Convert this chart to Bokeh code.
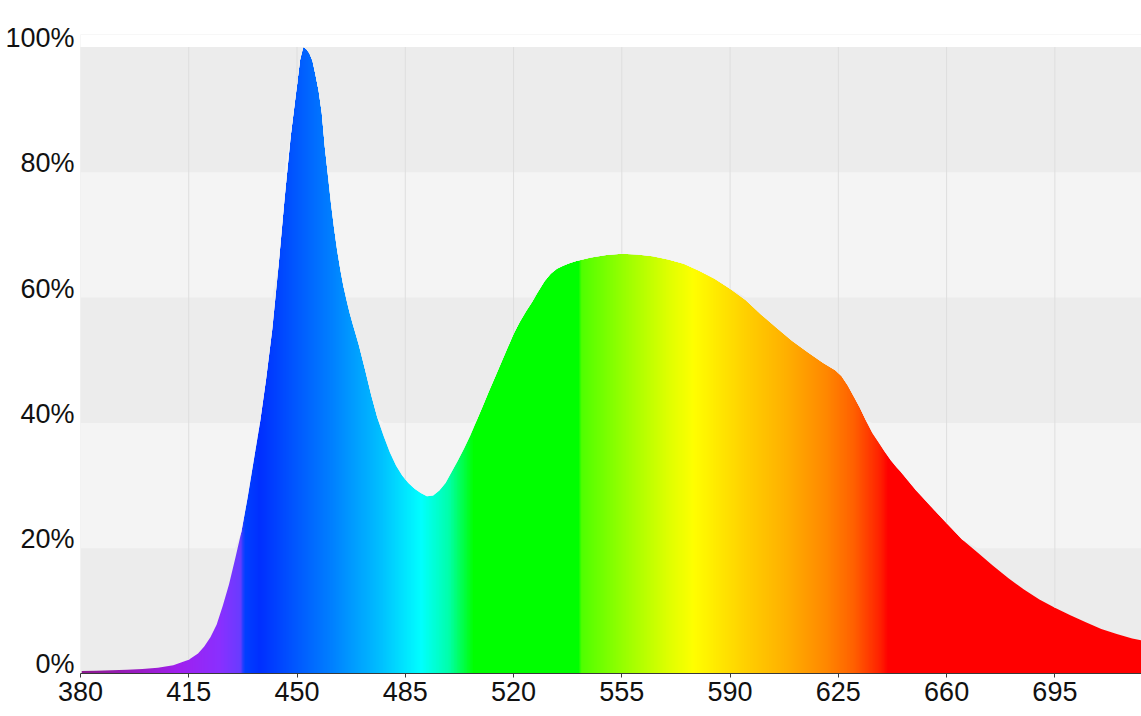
import numpy as np
from bokeh.plotting import figure
from bokeh.models import Range1d, FixedTicker, BoxAnnotation
from bokeh.embed import file_html
from bokeh.resources import INLINE

# ---- data ----
wavelength = [380, 385, 390, 395, 400, 405, 410, 415, 418, 420, 422, 424, 426, 428,
              430, 432, 434, 436, 438, 440, 442, 444, 446, 448, 450, 451, 452, 453,
              454, 455, 456, 457, 458, 459, 460, 461, 462, 463, 464, 465, 466, 467,
              468, 469, 470, 472, 474, 476, 478, 480, 482, 484, 486, 488, 490, 492,
              494, 496, 498, 500, 502, 504, 506, 508, 510, 512, 514, 516, 518, 520,
              522, 524, 526, 528, 530, 532, 534, 536, 538, 540, 545, 550, 555, 560,
              565, 570, 575, 580, 585, 590, 595, 600, 605, 610, 615, 620, 622, 624,
              626, 628, 630, 632, 634, 636, 638, 640, 642, 644, 645, 650, 655, 660,
              665, 670, 675, 680, 685, 690, 695, 700, 705, 710, 715, 720, 725]
intensity = [0.4, 0.45, 0.5, 0.6, 0.7, 0.9, 1.3, 2.2, 3.2, 4.3, 5.8, 7.8, 10.8, 14.2,
             18.3, 22.6, 28.0, 34.0, 40.0, 47.0, 55.0, 65.0, 76.0, 86.0, 94.0, 98.0, 100.0, 99.7,
             99.0, 97.8, 95.5, 93.0, 89.5, 84.0, 79.5, 75.0, 71.0, 67.5, 64.5, 61.8, 59.6, 57.6,
             55.8, 54.1, 52.4, 48.5, 44.4, 40.8, 37.9, 35.3, 33.2, 31.6, 30.4, 29.5, 28.8, 28.3,
             28.4, 29.2, 30.4, 32.2, 34.0, 35.9, 38.0, 40.3, 42.6, 45.0, 47.3, 49.6, 51.9, 54.2,
             56.1, 57.8, 59.3, 61.0, 62.6, 63.8, 64.6, 65.1, 65.5, 65.8, 66.4, 66.8, 67.0, 66.9,
             66.6, 66.1, 65.4, 64.3, 63.0, 61.4, 59.6, 57.3, 55.2, 53.1, 51.3, 49.6, 49.0, 48.4,
             47.5, 46.0, 44.2, 42.4, 40.3, 38.4, 36.9, 35.4, 34.0, 32.8, 32.3, 29.3, 26.6, 24.0,
             21.4, 19.3, 17.2, 15.2, 13.4, 11.8, 10.5, 9.3, 8.2, 7.1, 6.3, 5.6, 5.1]

x_ticks = [380, 415, 450, 485, 520, 555, 590, 625, 660, 695, 730]
y_ticks = [0, 20, 40, 60, 80, 100]
y_tick_labels = ["0%", "20%", "40%", "60%", "80%", "100%"]

# spectral colour stops (wavelength -> colour)
color_wl = [380, 400, 412, 425, 431.5, 433, 438, 461, 477, 490, 499, 507, 541, 541.8,
            557, 570, 578, 595, 608, 621, 630, 638.5, 641, 730]
color_hex = ["#8c1a8c", "#9a1cc8", "#a020f0", "#8a30ff", "#6a3cff", "#0040ff", "#0030ff",
             "#0080ff", "#00c0ff", "#00ffff", "#00ffaa", "#00ff00", "#00ff00", "#50ff00",
             "#a0ff00", "#e0ff00", "#ffff00", "#ffd000", "#ffb000", "#ff8800", "#ff6000",
             "#ff2000", "#ff0000", "#ff0000"]

X_START, X_END = 380, 723.0
Y_TOP = 102          # a little white headroom above the 100% line
LABEL_SHIFT = 1.44   # y labels sit slightly above their grid lines
FONT = "Liberation Sans"

p = figure(frame_width=1061, frame_height=639, min_border_left=80, min_border_top=34,
           min_border_right=0, output_backend="svg", toolbar_location=None,
           x_range=Range1d(X_START, X_END), y_range=Range1d(0, Y_TOP))
p.outline_line_color = None
p.border_fill_color = "white"
p.background_fill_color = "#ececec"
p.xgrid.visible = False
p.ygrid.visible = False
# white headroom above the 100% line
p.add_layout(BoxAnnotation(bottom=100, fill_color="white", fill_alpha=1.0,
                           line_color=None, level="underlay"))

# ---- gradient (colour as a function of wavelength) ----
wl_arr = np.array(wavelength, dtype=float)
val_arr = np.array(intensity, dtype=float)
rgb = np.array([[int(h[i:i + 2], 16) for i in (1, 3, 5)] for h in color_hex], dtype=float)
IMG_X0 = X_START + 0.4
cols = np.linspace(IMG_X0, X_END, 1400)
r = np.interp(cols, color_wl, rgb[:, 0]).astype(np.uint32)
g = np.interp(cols, color_wl, rgb[:, 1]).astype(np.uint32)
b = np.interp(cols, color_wl, rgb[:, 2]).astype(np.uint32)
rgba = (np.uint32(255) << np.uint32(24)) | (b << np.uint32(16)) | (g << np.uint32(8)) | r
img = rgba.reshape(1, -1).astype(np.uint32)
p.image_rgba(image=[img], x=IMG_X0, y=0, dw=X_END - IMG_X0, dh=100)

# ---- mask above the spectrum: alternating bands ----
band_colors = ["#ececec", "#f4f4f4", "#ececec", "#f4f4f4", "#ececec"]
for lo, col in zip(y_ticks[:-1], band_colors):
    p.varea(x=wl_arr, y1=np.maximum(val_arr, lo), y2=100, fill_color=col)

# ---- vertical grid lines above the spectrum ----
grid_x = np.array([t for t in x_ticks if X_START < t < X_END], dtype=float)
p.segment(x0=grid_x, y0=np.interp(grid_x, wl_arr, val_arr), x1=grid_x, y1=100,
          line_color="#dedede", line_width=1)

# ---- x axis ----
ax = p.xaxis[0]
ax.ticker = FixedTicker(ticks=x_ticks)
ax.axis_line_color = "#3a3a3a"
ax.axis_line_width = 1
ax.major_tick_line_color = "#3a3a3a"
ax.major_tick_out = 4
ax.major_tick_in = 0
ax.minor_tick_line_color = None
ax.major_label_standoff = 4
ax.major_label_text_font = FONT
ax.major_label_text_font_size = "27px"
ax.major_label_text_color = "#111111"

# ---- y axis: labels only ----
ay = p.yaxis[0]
label_pos = [t + LABEL_SHIFT for t in y_ticks]
ay.ticker = FixedTicker(ticks=label_pos)
ay.major_label_overrides = {pos: lab for pos, lab in zip(label_pos, y_tick_labels)}
ay.axis_line_color = None
ay.major_tick_line_color = None
ay.minor_tick_line_color = None
ay.major_tick_out = 0
ay.major_tick_in = 0
ay.major_label_standoff = 6
ay.major_label_text_font = FONT
ay.major_label_text_font_size = "27px"
ay.major_label_text_color = "#111111"

open("out.html", "w").write(file_html(p, INLINE))
